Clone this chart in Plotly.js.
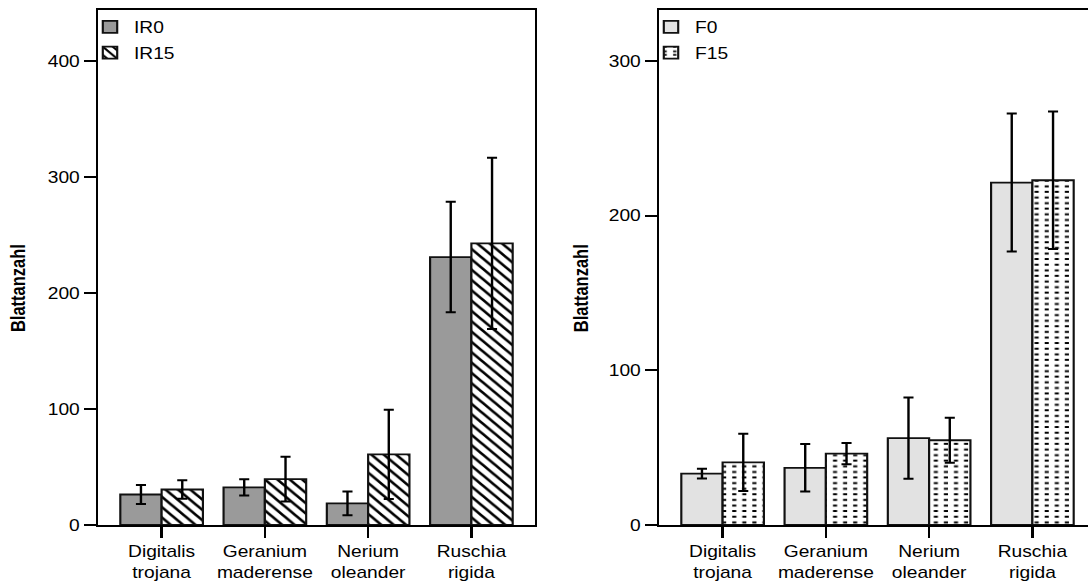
<!DOCTYPE html>
<html>
<head>
<meta charset="utf-8">
<script src="https://cdn.plot.ly/plotly-3.0.1.min.js"></script>
<style>
  html, body { margin: 0; padding: 0; overflow: hidden; background: #fff; }
  #chart { height: 584px; transform-origin: 0 0; }
</style>
</head>
<body>
<div id="chart"></div>
<script>
// Leaf counts (mean ± error) per species under two treatment pairs
const species = ['Digitalis<br>trojana', 'Geranium<br>maderense', 'Nerium<br>oleander', 'Ruschia<br>rigida'];

const ir0 = [26.3, 32.5, 18.6, 231.0];
const ir0Err = [8.2, 7.0, 10.3, 47.6];
const ir15 = [30.6, 39.5, 60.9, 242.8];
const ir15Err = [7.9, 19.3, 38.5, 73.8];

const f0 = [33.2, 37.0, 56.2, 221.4];
const f0Err = [3.2, 15.4, 26.3, 44.6];
const f15 = [40.5, 46.2, 54.8, 222.9];
const f15Err = [18.5, 6.9, 14.5, 44.4];

const leftTicks = [0, 100, 200, 300, 400];
const rightTicks = [0, 100, 200, 300];

// The figure is laid out narrower and widened horizontally by this factor
const SX = 1.2;
const PAGE_W = 1100;
const W = Math.round(PAGE_W / SX), H = 584;
const box = document.getElementById('chart');
box.style.width = W + 'px';
box.style.transform = 'scaleX(' + SX + ')';

const FONT = 'Liberation Sans, Arial, sans-serif';
const px = v => v / (W * SX);  // page pixel -> paper fraction

// short horizontal dashes for the F15 fill, square tile of 16.8 px
let dashPath = '';
[2.2, 10.6].forEach(x0 => {
  [1.7, 7.3, 12.9].forEach(y0 => {
    dashPath += 'M' + x0 + ',' + y0 + 'h3.4v2h-3.4Z';
  });
});

function errs(arr) {
  return { type: 'data', array: arr, visible: true, color: '#000', thickness: 2, width: 4.2 };
}
const outline = { color: '#111', width: 1.8 };

const traces = [
  {
    type: 'bar', name: 'IR0', x: species, y: ir0, error_y: errs(ir0Err),
    xaxis: 'x', yaxis: 'y', legend: 'legend', legendgroup: 'a',
    marker: { color: '#9a9a9a', line: outline }
  },
  {
    type: 'bar', name: 'IR15', x: species, y: ir15, error_y: errs(ir15Err),
    xaxis: 'x', yaxis: 'y', legend: 'legend', legendgroup: 'b',
    marker: { color: '#fff', line: outline,
      pattern: { shape: '\\', fgcolor: '#000', bgcolor: '#fff', fillmode: 'replace', size: 7.3, solidity: 0.33 } }
  },
  {
    type: 'bar', name: 'F0', x: species, y: f0, error_y: errs(f0Err),
    xaxis: 'x2', yaxis: 'y2', legend: 'legend2', legendgroup: 'c',
    marker: { color: '#e2e2e2', line: outline }
  },
  {
    type: 'bar', name: 'F15', x: species, y: f15, error_y: errs(f15Err),
    xaxis: 'x2', yaxis: 'y2', legend: 'legend2', legendgroup: 'd',
    marker: { color: '#fff', line: outline,
      pattern: { path: dashPath, fgcolor: '#000', bgcolor: '#fff', fillmode: 'replace', size: 16.8, solidity: 0.5 } }
  }
];

function xAxis(domain, anchor) {
  return {
    domain: domain, anchor: anchor, type: 'category', range: [-0.616, 3.616],
    showline: true, linecolor: '#000', linewidth: 2, mirror: true,
    ticks: 'outside', ticklen: 11, tickwidth: 2, tickcolor: '#000',
    tickfont: { family: FONT, size: 16, color: '#000' },
    showgrid: false, zeroline: false, fixedrange: true
  };
}
function yAxis(range, ticks, anchor) {
  return {
    domain: [0, 1], anchor: anchor, range: range,
    tickmode: 'array', tickvals: ticks, ticktext: ticks.map(String),
    showline: true, linecolor: '#000', linewidth: 2, mirror: true,
    ticks: 'outside', ticklen: 10, tickwidth: 2, tickcolor: '#000',
    tickfont: { family: FONT, size: 16, color: '#000' },
    showgrid: false, zeroline: false, fixedrange: true
  };
}
function legendAt(xPage) {
  return {
    x: px(xPage), xanchor: 'left', y: 1, yanchor: 'top',
    bgcolor: 'rgba(0,0,0,0)', borderwidth: 0,
    font: { family: FONT, size: 16, color: '#000' },
    traceorder: 'grouped', tracegroupgap: 2
  };
}
function yTitle(xPage) {
  return {
    text: '<b>Blattanzahl</b>', xref: 'paper', yref: 'paper',
    x: px(xPage), y: 0.46, xanchor: 'center', yanchor: 'middle',
    textangle: -90, showarrow: false,
    font: { family: FONT, size: 16.5, color: '#000' }
  };
}

const layout = {
  width: W, height: H,
  margin: { l: 0, r: 0, t: 10, b: 59 },
  paper_bgcolor: '#fff', plot_bgcolor: '#fff',
  barmode: 'group', bargap: 0.2, bargroupgap: 0,
  showlegend: true,
  xaxis: xAxis([px(98), px(535)], 'y'),
  yaxis: yAxis([0, 444], leftTicks, 'x'),
  xaxis2: xAxis([px(659), px(1096)], 'y2'),
  yaxis2: yAxis([0, 333], rightTicks, 'x2'),
  legend: legendAt(86),
  legend2: legendAt(647),
  annotations: [yTitle(18), yTitle(581)]
};

Plotly.newPlot('chart', traces, layout, { staticPlot: true, displayModeBar: false });
</script>
</body>
</html>
